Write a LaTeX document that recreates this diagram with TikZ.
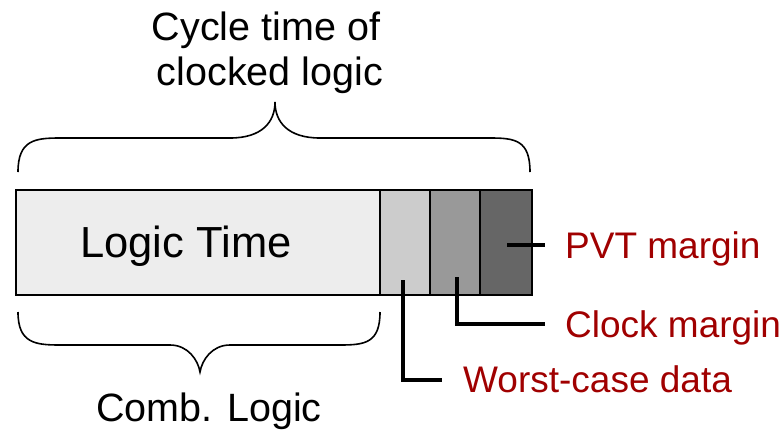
\documentclass[tikz,border=0pt]{standalone}
\usepackage{fontspec}
\setmainfont{Liberation Sans}
\definecolor{darkred}{HTML}{A00000}
\begin{document}
\begin{tikzpicture}[x=1pt,y=-1pt,
  seg/.style={draw=black, line width=2.6pt},
  brace/.style={draw=black, line width=1.6pt},
  leader/.style={draw=black, line width=3.5pt},
  blacktext/.style={font=\fontsize{39.5}{45}\selectfont, inner sep=0pt, anchor=base},
  redtext/.style={font=\fontsize{37}{40}\selectfont, text=darkred, inner sep=0pt, anchor=base west}]
\useasboundingbox (0,0) rectangle (784,437);

% time bar segments
\path[seg, fill={rgb,255:red,237;green,237;blue,237}] (16,190) rectangle (380,295);
\path[seg, fill={rgb,255:red,204;green,204;blue,204}] (380,190) rectangle (430,295);
\path[seg, fill={rgb,255:red,153;green,153;blue,153}] (430,190) rectangle (480,295);
\path[seg, fill={rgb,255:red,102;green,102;blue,102}] (480,190) rectangle (532,295);
\coordinate (wc) at (403,280);
\coordinate (ck) at (457,277);
\coordinate (pv) at (507,245);

% labels
\node[blacktext, font=\fontsize{43.5}{45}\selectfont] (logic) at (186,257) {Logic Time};
\node[blacktext] (cyc1) at (266,40) {Cycle time of};
\node[blacktext] (cyc2) at (270,85) {clocked logic};
\node[blacktext] (comb) at (209,421) {Comb. Logic};
\node[redtext] (pvt) at (565,258) {PVT margin};
\node[redtext] (clk) at (565,337) {Clock margin};
\node[redtext] (wcd) at (463,392) {Worst-case data};

% leader lines
\path[leader] (pv) -- (545,245);
\path[leader] (ck) -- (457,324) -- (545,324);
\path[leader] (wc) -- (403,380) -- (442,380);

% braces
\path[brace] (18,172) .. controls (18,140) and (35,138) .. (60,138) -- (230,138)
  .. controls (262,138) and (275,122) .. (275,102)
  .. controls (275,122) and (288,138) .. (320,138) -- (490,138)
  .. controls (515,138) and (530,140) .. (530,172);
\path[brace] (18,312) .. controls (18,343) and (35,345) .. (60,345) -- (170,345)
  .. controls (188,345) and (198,360) .. (200,372)
  .. controls (202,360) and (212,345) .. (230,345) -- (340,345)
  .. controls (365,345) and (380,343) .. (380,312);
\end{tikzpicture}
\end{document}
